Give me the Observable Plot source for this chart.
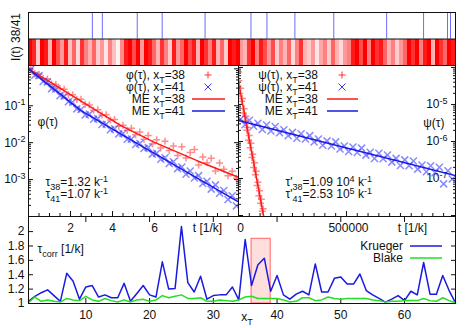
<!DOCTYPE html>
<html><head><meta charset="utf-8">
<script src="https://cdn.jsdelivr.net/npm/d3@7"></script>
<script src="https://cdn.jsdelivr.net/npm/@observablehq/plot@0.6"></script>
<style>
body{margin:0;background:#fff;}
#chart{position:relative;width:469px;height:328px;}
#chart svg{position:absolute;left:0;top:0;overflow:visible;}
</style></head><body><div id="chart"></div>
<script>
// ---------- data ----------
// top strip: I(t) of x_T=38 (intensity per time bin) and switching times of x_T=41
const level38 = [1,.85,.2,1,.9,.3,1,.7, .4,.9,.25,.6,.15,.8,.5,.3, .6,.2,.4,.1,.5,.25,.05,.45, .9,1,.7,1,.4,1,.9,.6, .3,.8,.5,.2,.9,.4,.6, 1,.7,.9,.3,1,.8,.5,.9, .3,.6,.2,1,.9,1, .4,.3,.8, 1,.5,.9,.7, .4,.7,.2,.5,.3,.6,.15,.5,.8,.3, .2,.4,.1,.35,.5,.2,.6,.3,.15,.4,.5, .9,1,.7,1,.5,1,.8,.9,.6, .3,.5,.2,.4,.6, 1,.8,1,.5,.9,1,.3,1,.8,.6,1,.9];
const switches41 = [16, 18.5, 27.25, 33.5, 44.25, 55.75, 59.75, 66.75, 76.5, 89.75, 99, 105, 105.75];

// phi(tau)
const phiT = [0.1,0.3,0.5,0.7,0.9,1.1,1.3,1.5,1.7,1.9,2.1,2.3,2.5,2.7,2.9,3.1,3.3,3.5,3.7,3.9,4.1,4.3,4.5,4.7,4.9,5.1,5.3,5.5,5.7,5.9,6.1,6.3,6.5,6.7,6.9,7.1,7.3,7.5,7.7,7.9,8.1,8.3,8.5,8.7,8.9,9.1,9.3,9.5,9.7,9.9];
const phi38 = [0.966,0.733,0.716,0.543,0.531,0.385,0.377,0.287,0.281,0.199,0.200,0.148,0.151,0.109,0.104,0.0755,0.0773,0.0560,0.0571,0.0414,0.0424,0.0279,0.0298,0.0217,0.0246,0.0164,0.0194,0.0123,0.0156,0.00929,0.0119,0.00718,0.0109,0.00614,0.00811,0.00447,0.00778,0.00382,0.00541,0.00652,0.00249,0.00408,0.00285,0.00379,0.00171,0.00280,0.00191,0.00127,0.00169,0.00108];
const phi41 = [0.966,0.668,0.653,0.452,0.442,0.291,0.284,0.187,0.182,0.128,0.125,0.0823,0.0787,0.0562,0.0593,0.0433,0.0447,0.0312,0.0314,0.0224,0.0237,0.0173,0.0178,0.0124,0.0125,0.00896,0.00948,0.00693,0.00733,0.00490,0.00518,0.00354,0.00392,0.00274,0.00303,0.00198,0.00219,0.00140,0.00170,0.00111,0.00128,0.000781,0.000906,0.000551,0.000718,0.000427,0.000507,0.000288,0.000366,0.000194];
const meT38 = [0, 1, 2, 4.38, 6, 8, 10];
const me38 = [1.0, 0.45, 0.20, 0.0294, 0.0102, 0.0033, 0.00115];
const meT41 = [0, 1, 2.48, 5, 10];
const me41 = [1.0, 0.35, 0.0746, 0.0108, 0.000248];

// psi(tau)
const psiT38 = [500,2000,6000,10000,14000,18000,22000,26000,30000,34000,38000,42000,46000,50000,54000,58000,62000,66000,70000,74000,78000,82000,86000,90000,94000,98000,102000,106000,110000,114000];
const psi38 = [7.5e-5,4.35e-5,1.97e-5,2.75e-5,1.22e-5,1.45e-5,5.85e-6,7.64e-6,3.71e-6,4.84e-6,2.00e-6,2.38e-6,1.08e-6,1.44e-6,6.82e-7,8.91e-7,3.68e-7,4.49e-7,1.99e-7,2.65e-7,1.26e-7,1.57e-7,6.47e-8,7.89e-8,3.41e-8,4.67e-8,2.16e-8,2.76e-8,1.31e-8,1.52e-8];
const psiT41 = [10000,30000,50000,70000,90000,110000,130000,150000,170000,190000,210000,230000,250000,270000,290000,310000,330000,350000,370000,390000,410000,430000,450000,470000,490000,510000,530000,550000,570000,590000,610000,630000,650000,670000,690000,710000,730000,750000,770000,790000,810000,830000,850000,870000,890000,910000,930000,950000,970000,990000];
const psi41 = [4.01e-6,2.84e-6,3.75e-6,2.59e-6,3.12e-6,2.11e-6,2.79e-6,1.93e-6,2.54e-6,1.72e-6,2.07e-6,1.43e-6,1.76e-6,1.22e-6,1.61e-6,1.17e-6,1.44e-6,9.73e-7,1.17e-6,7.91e-7,1.04e-6,7.57e-7,9.75e-7,6.30e-7,7.57e-7,5.37e-7,7.08e-7,5.01e-7,6.61e-7,4.28e-7,5.14e-7,3.48e-7,4.80e-7,3.40e-7,4.29e-7,2.77e-7,3.49e-7,2.25e-7,3.18e-7,2.20e-7,2.98e-7,1.79e-7,2.31e-7,1.53e-7,2.21e-7,1.43e-7,2.02e-7,7.16e-8,1.61e-7,9.68e-8];
const meTp38 = [0, 50000, 116000];
const mep38 = [4.0e-5, 1.12e-6, 1.0e-8];
const meTp41 = [0, 1005000];
const mep41 = [3.7e-6, 1.19e-7];

// tau_corr vs x_T
const xT = [1,2,3,4,5,6,7,8,9,10,11,12,13,14,15,16,17,18,19,20,21,22,23,24,25,26,27,28,29,30,31,32,33,34,35,36,37,38,39,40,41,42,43,44,45,46,47,48,49,50,51,52,53,54,55,56,57,58,59,60,61,62,63,64,65,66,67,68];
const krueger = [1.03,1.10,1.15,1.19,1.11,1.03,1.42,1.31,1.06,1.23,1.25,1.09,1.12,1.08,1.08,1.28,1.03,1.14,1.25,1.12,1.09,1.58,1.20,1.21,2.07,1.29,1.16,1.38,1.06,1.11,1.12,1.12,1.23,1.05,1.89,1.25,1.54,1.63,1.17,1.39,1.12,1.06,1.13,1.17,1.12,1.55,1.16,1.16,1.35,1.37,1.27,1.27,1.41,1.18,1.12,1.07,1.02,1.06,1.11,1.04,1.17,1.12,1.57,1.13,1.13,1.39,1.18,1.01];
const blake = [1.01,1.09,1.03,1.05,1.03,1.02,1.07,1.05,1.04,1.10,1.05,1.03,1.07,1.04,1.02,1.05,1.02,1.05,1.06,1.03,1.05,1.11,1.08,1.10,1.12,1.07,1.07,1.08,1.03,1.03,1.05,1.04,1.03,1.05,1.09,1.10,1.07,1.07,1.07,1.07,1.05,1.02,1.03,1.08,1.08,1.04,1.05,1.09,1.07,1.06,1.07,1.07,1.07,1.07,1.05,1.04,1.02,1.03,1.03,1.04,1.04,1.04,1.07,1.04,1.03,1.08,1.04,1.01];
const highlightX = [36, 39];
const highlightTop = 1.9;

// ---------- helpers ----------
const W = 469, H = 328;
const INK = "#111";
const FONT = "'Liberation Sans', Arial, Helvetica, sans-serif";
const RED = "#ff1a1a", RED_PT = "#ff2e2e", BLUE = "#1a1ae0", BLUE_PT = "#3c3cff", GREEN = "#22e022";
const pairs = (ts, vs) => ts.map((t, i) => ({t, v: vs[i]}));
const pow = d => `10^{${Math.round(Math.log10(d))}}`;
const plusSym = {draw(c) { c.moveTo(-3.5, 0); c.lineTo(3.5, 0); c.moveTo(0, -3.5); c.lineTo(0, 3.5); }};
const timesSym = {draw(c) { c.moveTo(-3.5, -3.5); c.lineTo(3.5, 3.5); c.moveTo(-3.5, 3.5); c.lineTo(3.5, -3.5); }};
function panel(box, spec) {
  return Plot.plot({
    width: W, height: H,
    marginLeft: box[0], marginTop: box[1], marginRight: W - box[2], marginBottom: H - box[3],
    style: {background: "transparent", overflow: "visible", fontFamily: FONT, fontSize: "12px", color: INK},
    ...spec
  });
}
const ticks = (axis, anchor, values, size) => axis(values, {anchor, tickSize: -size, tickFormat: () => "", label: null, stroke: INK});
function logMinor(lo, hi) {
  const out = [];
  for (let e = Math.floor(Math.log10(lo)); e <= Math.ceil(Math.log10(hi)); e++)
    for (let k = 2; k <= 9; k++) { const v = k * Math.pow(10, e); if (v > lo && v < hi) out.push(v); }
  return out;
}
const label = (s, o) => Plot.text([s], {text: d => d, lineAnchor: "middle", textAnchor: "middle", ...o});

// ---------- top strip ----------
const topPlot = panel([28, 12, 455, 65], {
  x: {domain: [0, level38.length], axis: null},
  y: {domain: [0, 2], axis: null},
  color: {type: "identity"},
  marks: [
    Plot.rect(level38, {x1: (d, i) => i, x2: (d, i) => i + 1, y1: 0, y2: 1, fill: d => d3.interpolateRgb("#ffffff", "#ff0000")(d), shapeRendering: "crispEdges"}),
    Plot.ruleX(switches41, {y1: 1, y2: 2, stroke: "#6b6bff"}),
    Plot.ruleY([1], {stroke: INK}),
    Plot.frame({stroke: INK}),
    label("I(t) 38/41", {frameAnchor: "left", rotate: -90, dx: -12, dy: -2})
  ]
});

// ---------- phi panel ----------
const yL = [1e-4, 1.23];
const majL = [1, 1e-1, 1e-2, 1e-3];
const minL = logMinor(yL[0], yL[1]);
const midL = panel([28, 65, 238, 216], {
  x: {domain: [0, 10]},
  y: {type: "log", domain: yL},
  marks: [
    ticks(Plot.axisY, "left", majL, 5), ticks(Plot.axisY, "left", minL, 3),
    ticks(Plot.axisY, "right", majL, 5), ticks(Plot.axisY, "right", minL, 3),
    ticks(Plot.axisX, "bottom", [2, 4, 6, 8], 5),
    ticks(Plot.axisX, "bottom", [0.5,1,1.5,2.5,3,3.5,4.5,5,5.5,6.5,7,7.5,8.5,9,9.5], 3),
    Plot.text([1e-1, 1e-2, 1e-3], {y: d => d, frameAnchor: "left", dx: -3, textAnchor: "end", lineAnchor: "middle", text: pow}),
    Plot.text([2, 4, 6], {x: d => d, frameAnchor: "bottom", dy: 12, lineAnchor: "middle", text: d => String(d)}),
    label("t [1/k]", {frameAnchor: "bottom-right", dx: -31, dy: 12}),
    label("φ(τ)", {frameAnchor: "top-left", dx: 9, dy: 57, textAnchor: "start"}),
    label("τ_{38}=1.32 k^{-1}", {frameAnchor: "top-left", dx: 17, dy: 117, textAnchor: "start"}),
    label("τ_{41}=1.07 k^{-1}", {frameAnchor: "top-left", dx: 17, dy: 129, textAnchor: "start"}),
    Plot.dot(pairs(phiT, phi38), {x: "t", y: "v", symbol: plusSym, fill: "none", stroke: RED_PT, strokeOpacity: 0.55, clip: true}),
    Plot.dot(pairs(phiT, phi41), {x: "t", y: "v", symbol: timesSym, fill: "none", stroke: BLUE_PT, strokeOpacity: 0.6, clip: true}),
    Plot.line(pairs(meT38, me38), {x: "t", y: "v", stroke: RED, strokeWidth: 1.5, clip: true}),
    Plot.line(pairs(meT41, me41), {x: "t", y: "v", stroke: BLUE, strokeWidth: 1.5, clip: true}),
    Plot.frame({stroke: INK})
  ]
});

// ---------- psi panel ----------
const yR = [9.4e-9, 1.13e-4];
const majR = [1e-4, 1e-5, 1e-6, 1e-7, 1e-8];
const minR = logMinor(yR[0], yR[1]);
const minXR = []; for (let v = 50000; v < 1000000; v += 50000) if (v !== 500000) minXR.push(v);
const midR = panel([238, 65, 455, 216], {
  x: {domain: [0, 1005000]},
  y: {type: "log", domain: yR},
  marks: [
    ticks(Plot.axisY, "right", majR, 5), ticks(Plot.axisY, "right", minR, 3),
    ticks(Plot.axisY, "left", majR, 5), ticks(Plot.axisY, "left", minR, 3),
    ticks(Plot.axisX, "bottom", [500000], 5), ticks(Plot.axisX, "bottom", minXR, 3),
    Plot.text([1e-5, 1e-6, 1e-7], {y: d => d, frameAnchor: "right", dx: -8, textAnchor: "end", lineAnchor: "middle", text: pow}),
    Plot.text([0, 500000], {x: d => d, frameAnchor: "bottom", dy: 12, dx: 2, lineAnchor: "middle", text: d => String(d)}),
    label("t [1/k]", {frameAnchor: "bottom-right", dx: -43, dy: 12}),
    label("ψ(τ)", {frameAnchor: "top-right", dx: -11, dy: 58, textAnchor: "end"}),
    label("τ'_{38}=1.09 10^{4} k^{-1}", {frameAnchor: "top-left", dx: 47, dy: 117, textAnchor: "start"}),
    label("τ'_{41}=2.53 10^{5} k^{-1}", {frameAnchor: "top-left", dx: 47, dy: 129, textAnchor: "start"}),
    Plot.dot(pairs(psiT38, psi38), {x: "t", y: "v", symbol: plusSym, fill: "none", stroke: RED_PT, strokeOpacity: 0.55, clip: true}),
    Plot.dot(pairs(psiT41, psi41), {x: "t", y: "v", symbol: timesSym, fill: "none", stroke: BLUE_PT, strokeOpacity: 0.6, clip: true}),
    Plot.line(pairs(meTp38, mep38), {x: "t", y: "v", stroke: RED, strokeWidth: 1.5, clip: true}),
    Plot.line(pairs(meTp41, mep41), {x: "t", y: "v", stroke: BLUE, strokeWidth: 1.5, clip: true}),
    Plot.frame({stroke: INK})
  ]
});

// ---------- tau_corr panel ----------
const yB = [1, 1.2, 1.4, 1.6, 1.8, 2];
const xB = [10, 20, 30, 40, 50, 60];
const bot = panel([28, 216, 455, 303], {
  x: {domain: [1, 68]},
  y: {domain: [1, 2.21]},
  marks: [
    ticks(Plot.axisY, "left", yB, 5), ticks(Plot.axisY, "right", yB, 5),
    ticks(Plot.axisX, "bottom", xB, 5), ticks(Plot.axisX, "top", xB, 5),
    Plot.text(yB, {y: d => d, frameAnchor: "left", dx: -4, textAnchor: "end", lineAnchor: "middle", text: d => (d === 1 || d === 2) ? String(d) : d.toFixed(1)}),
    Plot.text(xB, {x: d => d, frameAnchor: "bottom", dy: 12, lineAnchor: "middle", text: d => String(d)}),
    label("x_{T}", {frameAnchor: "bottom", dx: 5, dy: 14}),
    label("τ_{corr} [1/k]", {frameAnchor: "top-left", dx: 9, dy: 33, textAnchor: "start"}),
    Plot.rect([0], {x1: () => highlightX[0], x2: () => highlightX[1], y1: () => 1, y2: () => highlightTop, fill: "#ffdede", stroke: "#ff6666"}),
    Plot.line(pairs(xT, krueger), {x: "t", y: "v", stroke: BLUE, strokeWidth: 1.5}),
    Plot.line(pairs(xT, blake), {x: "t", y: "v", stroke: GREEN, strokeWidth: 1.5}),
    Plot.frame({stroke: INK})
  ]
});

const chart = document.getElementById("chart");
[topPlot, midL, midR, bot].forEach(p => chart.appendChild(p));

// ---------- legends ----------
function drawLegend(svg, rows) {
  const g = d3.select(svg).append("g").attr("font-family", FONT).attr("font-size", 12).attr("fill", INK);
  for (const r of rows) {
    g.append("text").attr("x", r.tx).attr("y", r.y).attr("dy", "0.35em").attr("text-anchor", "end").text(r.label);
    if (r.kind === "line") {
      g.append("line").attr("x1", r.s1).attr("x2", r.s2).attr("y1", r.y).attr("y2", r.y).attr("stroke", r.color).attr("stroke-width", 1.5);
    } else {
      const s = r.s1, y = r.y;
      g.append("path").attr("fill", "none").attr("stroke", r.color)
        .attr("d", r.kind === "plus" ? `M${s-3.5},${y}h7M${s},${y-3.5}v7` : `M${s-3.5},${y-3.5}l7,7M${s-3.5},${y+3.5}l7,-7`);
    }
  }
}
drawLegend(midL, [
  {label: "φ(τ), x_{T}=38", tx: 185, y: 75, kind: "plus", s1: 208, color: RED_PT},
  {label: "φ(τ), x_{T}=41", tx: 185, y: 87, kind: "times", s1: 208, color: BLUE_PT},
  {label: "ME x_{T}=38", tx: 185, y: 99, kind: "line", s1: 192, s2: 225, color: RED},
  {label: "ME x_{T}=41", tx: 185, y: 111, kind: "line", s1: 192, s2: 225, color: BLUE}
]);
drawLegend(midR, [
  {label: "ψ(τ), x_{T}=38", tx: 318, y: 75, kind: "plus", s1: 342, color: RED_PT},
  {label: "ψ(τ), x_{T}=41", tx: 318, y: 87, kind: "times", s1: 342, color: BLUE_PT},
  {label: "ME x_{T}=38", tx: 318, y: 99, kind: "line", s1: 327, s2: 358, color: RED},
  {label: "ME x_{T}=41", tx: 318, y: 111, kind: "line", s1: 327, s2: 358, color: BLUE}
]);
drawLegend(bot, [
  {label: "Krueger", tx: 403, y: 246, kind: "line", s1: 410, s2: 442, color: BLUE},
  {label: "Blake", tx: 403, y: 258, kind: "line", s1: 410, s2: 442, color: GREEN}
]);

// ---------- sub/superscripts ----------
function richify(root) {
  root.querySelectorAll("text").forEach(t => {
    const s = t.textContent;
    if (!/[_^]\{/.test(s) || t.querySelector("tspan")) return;
    t.textContent = "";
    const re = /([_^])\{([^}]*)\}/g;
    let last = 0, m, shift = 0;
    const add = (str, kind) => {
      const ts = document.createElementNS("http://www.w3.org/2000/svg", "tspan");
      ts.textContent = str;
      const target = kind === "_" ? 3.5 : kind === "^" ? -4.5 : 0;
      if (target !== shift) ts.setAttribute("dy", target - shift);
      shift = target;
      if (kind) ts.setAttribute("font-size", "75%");
      t.appendChild(ts);
    };
    while ((m = re.exec(s))) { if (m.index > last) add(s.slice(last, m.index), null); add(m[2], m[1]); last = re.lastIndex; }
    if (last < s.length) add(s.slice(last), null);
  });
}
richify(chart);
</script></body></html>
